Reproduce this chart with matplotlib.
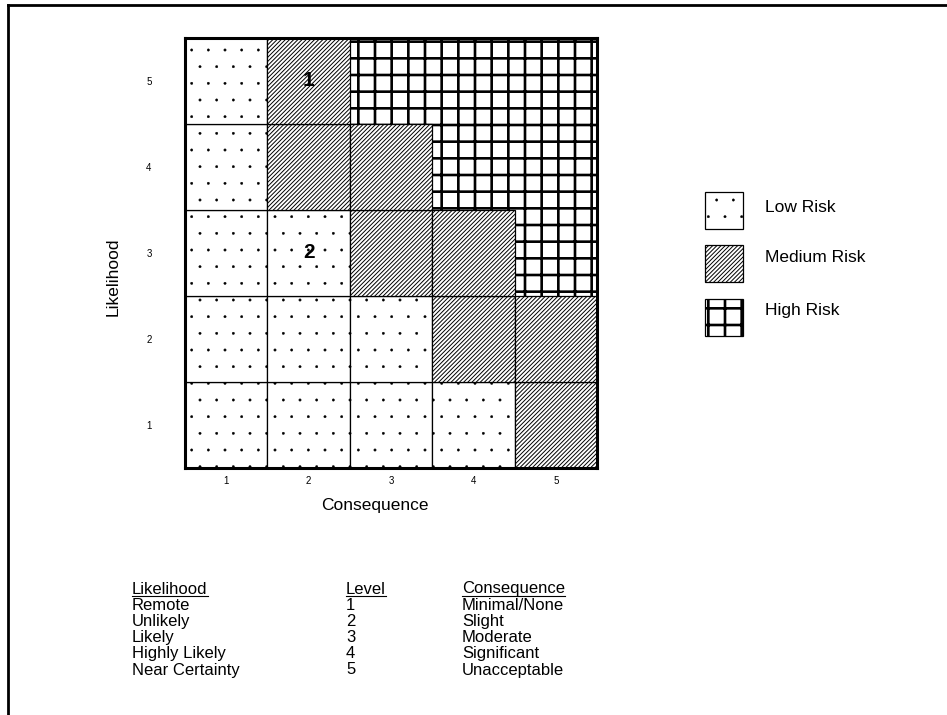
import matplotlib
matplotlib.use("Agg")
import matplotlib.pyplot as plt
import matplotlib.hatch as mhatch
from matplotlib.patches import Rectangle
from matplotlib.lines import Line2D

plt.rcParams['font.family'] = ['Liberation Sans', 'DejaVu Sans']
# smaller dots for the '.' hatch
mhatch.SmallFilledCircles.size = 0.07

# ---- data ----
consequence_levels = [1, 2, 3, 4, 5]
likelihood_levels = [1, 2, 3, 4, 5]
# risk category per likelihood row (1..5), per consequence column (1..5)
risk_rows = [
    ['L', 'L', 'L', 'L', 'M'],   # likelihood 1
    ['L', 'L', 'L', 'M', 'M'],   # likelihood 2
    ['L', 'L', 'M', 'M', 'H'],   # likelihood 3
    ['L', 'M', 'M', 'H', 'H'],   # likelihood 4
    ['L', 'M', 'H', 'H', 'H'],   # likelihood 5
]
cell_marks = [(2, 5, '1'), (2, 3, '2')]   # (consequence, likelihood, label)
legend_names = ['Low Risk', 'Medium Risk', 'High Risk']
legend_keys = ['L', 'M', 'H']
table_likelihood = ['Remote', 'Unlikely', 'Likely', 'Highly Likely', 'Near Certainty']
table_level = ['1', '2', '3', '4', '5']
table_consequence = ['Minimal/None', 'Slight', 'Moderate', 'Significant', 'Unacceptable']

hatch_style = {'L': ('.', 0.3), 'M': ('////////', 0.7), 'H': ('+', 1.9)}

W, H = 947, 715
fig = plt.figure(figsize=(W / 100, H / 100), dpi=100)

# overlay in pixel coordinates (origin top-left)
ov = fig.add_axes([0, 0, 1, 1])
ov.set_xlim(0, W)
ov.set_ylim(H, 0)
ov.axis('off')

def hatched_rect(axes, xy, w, h, key, lw_edge, **kw):
    hatch, hlw = hatch_style[key]
    with plt.rc_context({'hatch.linewidth': hlw, 'hatch.color': 'black'}):
        r = Rectangle(xy, w, h, facecolor='white', edgecolor='black',
                      linewidth=lw_edge, hatch=hatch, **kw)
        if hasattr(r, 'set_hatch_linewidth'):
            r.set_hatch_linewidth(hlw)
    axes.add_patch(r)
    return r

# main axes
x0, x1, y0, y1 = 185, 597, 38, 468
ax = fig.add_axes([x0 / W, 1 - y1 / H, (x1 - x0) / W, (y1 - y0) / H])
ax.set_xlim(0.5, 5.5)
ax.set_ylim(0.5, 5.5)

for li, row in zip(likelihood_levels, risk_rows):
    for ci, key in zip(consequence_levels, row):
        lw = 0 if key == 'H' else 0.9
        hatched_rect(ax, (ci - 0.5, li - 0.5), 1, 1, key, lw, zorder=2 if key == 'H' else 3)

for ci, li, txt in cell_marks:
    ax.text(ci, li, txt, ha='center', va='center', fontsize=15,
            fontweight='bold', zorder=5)

ax.set_xticks(consequence_levels)
ax.set_yticks(likelihood_levels)
ax.tick_params(axis='both', length=0, labelsize=7)
ax.tick_params(axis='y', pad=24)
ax.tick_params(axis='x', pad=6)
for s in ax.spines.values():
    s.set_linewidth(2.2)
    s.set_zorder(6)
ax.text(-0.175, 0.445, 'Likelihood', transform=ax.transAxes, rotation=90,
        ha='center', va='center', fontsize=12.5)
ax.text(0.46, -0.087, 'Consequence', transform=ax.transAxes,
        ha='center', va='center', fontsize=12.5)

# legend
box_tops = [192, 245, 299]
text_ys = [207, 258, 311]
for key, name, bt, ty in zip(legend_keys, legend_names, box_tops, text_ys):
    hatched_rect(ov, (705, bt), 38, 37, key, 0.9)
    ov.text(765, ty, name, ha='left', va='center', fontsize=12.5)

# table
col_x = [132, 346, 462]
base0 = 593.5
step = 16.2
headers = ['Likelihood', 'Level', 'Consequence']
head_texts = []
for x, h in zip(col_x, headers):
    head_texts.append(ov.text(x, base0, h, ha='left', va='baseline', fontsize=12))
for i in range(5):
    y = base0 + step * (i + 1)
    ov.text(col_x[0], y, table_likelihood[i], ha='left', va='baseline', fontsize=12)
    ov.text(col_x[1], y, table_level[i], ha='left', va='baseline', fontsize=12)
    ov.text(col_x[2], y, table_consequence[i], ha='left', va='baseline', fontsize=12)

fig.canvas.draw()
r = fig.canvas.get_renderer()
for t, x in zip(head_texts, col_x):
    bb = t.get_window_extent(renderer=r)
    ov.add_line(Line2D([x, x + bb.width], [base0 + 2.2, base0 + 2.2],
                       color='black', linewidth=0.8))

# outer frame (top and left)
ov.add_line(Line2D([8, W], [5, 5], color='black', linewidth=2.0))
ov.add_line(Line2D([8, 8], [5, H], color='black', linewidth=2.0))

fig.savefig('out.png', dpi=100)
